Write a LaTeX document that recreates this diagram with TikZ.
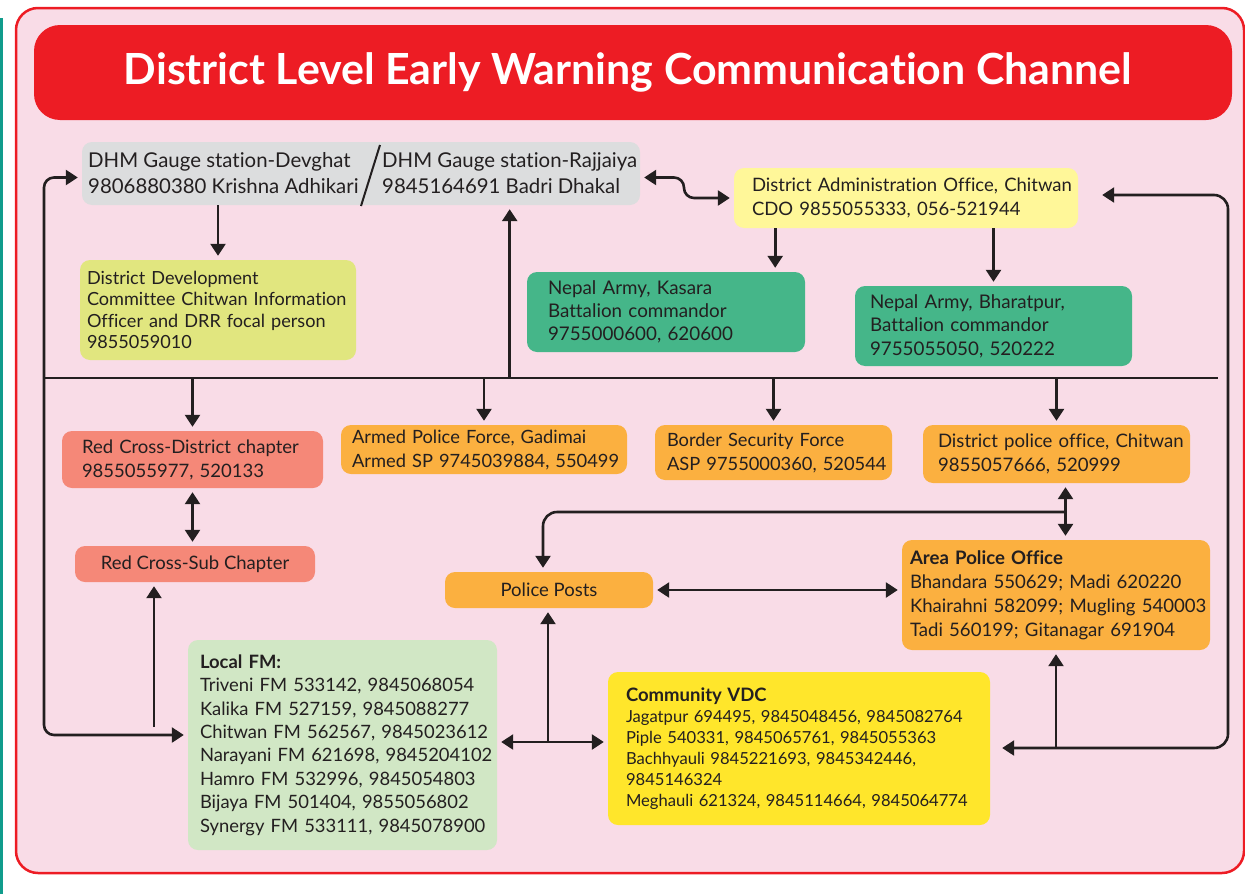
\documentclass[tikz,border=0pt]{standalone}
\usepackage{fontspec}
\setmainfont{Lato}[Ligatures=NoCommon]
\usetikzlibrary{arrows.meta}

\definecolor{ink}{HTML}{231F20}
\definecolor{bgpink}{HTML}{F9DCE7}
\definecolor{framered}{HTML}{ED1C24}
\definecolor{titlered}{HTML}{ED1C24}
\definecolor{edgeteal}{HTML}{109C8C}
\definecolor{dhmgray}{HTML}{DCDDDE}
\definecolor{ddcyellow}{HTML}{E1E67F}
\definecolor{daoyellow}{HTML}{FFF799}
\definecolor{armygreen}{HTML}{45B689}
\definecolor{crosssalmon}{HTML}{F58878}
\definecolor{policeorange}{HTML}{FBB040}
\definecolor{fmgreen}{HTML}{D1E7C5}
\definecolor{vdcyellow}{HTML}{FFE62B}

\newcommand\boxfont{\fontsize{18.5}{24}\selectfont}
\newcommand\dhmfont{\fontsize{20.4}{26}\selectfont}
\newcommand\ddcfont{\fontsize{18.1}{21.5}\selectfont}
\newcommand\fmfont{\fontsize{18.4}{23.4}\selectfont}
\newcommand\vdcfont{\fontsize{16.6}{21}\selectfont}

\tikzset{
  box/.style={rounded corners=10pt, text=ink, inner ysep=0pt, align=left, font=\boxfont,
    execute at begin node={\rightskip=0pt minus 60pt\hyphenpenalty=10000\exhyphenpenalty=10000\relax}},
  arr/.style={line width=2.6pt, draw=ink, -{Triangle[width=15pt,length=12pt]}, shorten >=4pt},
  arr2/.style={line width=2.6pt, draw=ink,
    {Triangle[width=15pt,length=12pt]}-{Triangle[width=15pt,length=12pt]},
    shorten >=4pt, shorten <=4pt},
}

\begin{document}
\begin{tikzpicture}[x=1pt,y=-1pt]
  \useasboundingbox (0,0) rectangle (1245,894);

  \fill[edgeteal] (0,18) rectangle (3,894);
  \draw[line width=2.5pt, draw=framered, fill=bgpink, rounded corners=22pt] (16,8) rectangle (1244,873);

  \node[fill=titlered, rounded corners=26pt, minimum width=1198pt, minimum height=95pt,
    text=white, font=\fontsize{42.9}{50}\selectfont\bfseries] (title) at (633,72.5)
    {District Level Early Warning Communication Channel\hspace*{10pt}};

  \begin{scope}[every node/.style={box}]
    \node[fill=dhmgray, minimum width=558pt, minimum height=63pt] (dhm) at (361,173.5) {};
    \node[font=\dhmfont, anchor=west, inner sep=0pt] (devghat) at (88,173.5)
      {DHM Gauge station-Devghat\\9806880380 Krishna Adhikari};
    \node[font=\dhmfont, anchor=west, inner sep=0pt] (rajjaiya) at (382,173.5)
      {DHM Gauge station-Rajjaiya\\9845164691 Badri Dhakal};

    \node[fill=ddcyellow, font=\ddcfont, inner xsep=7pt, text width=262pt, minimum height=100pt] (ddc) at (218,310)
      {District Development\\Committee Chitwan Information\\Officer and DRR focal person\\9855059010};
    \node[fill=daoyellow, inner xsep=18pt, text width=308pt, minimum height=60pt] (dao) at (906,198)
      {District Administration Office, Chitwan\\CDO 9855055333, 056-521944};
    \node[fill=armygreen, font=\fontsize{18.8}{23}\selectfont, inner xsep=21pt, text width=236pt, minimum height=80pt] (kasara) at (666,312)
      {Nepal Army, Kasara\\Battalion commandor\\9755000600, 620600};
    \node[fill=armygreen, font=\fontsize{18.8}{23.5}\selectfont, inner xsep=15pt, text width=247pt, minimum height=80pt] (bharatpur) at (993.5,326)
      {Nepal Army, Bharatpur,\\Battalion commandor\\9755055050, 520222};

    \node[fill=crosssalmon, inner xsep=20pt, text width=221pt, minimum height=57pt] (rcd) at (192.5,459.5)
      {Red Cross-District chapter\\9855055977, 520133};
    \node[fill=crosssalmon, align=center, minimum width=240pt, minimum height=36pt] (rcs) at (195,564)
      {Red Cross-Sub Chapter};
    \node[fill=policeorange, font=\fontsize{18.3}{24}\selectfont, inner xsep=11pt, text width=264pt, minimum height=49pt] (apf) at (484,449.5)
      {Armed Police Force, Gadimai\\Armed SP 9745039884, 550499};
    \node[fill=policeorange, font=\fontsize{18.3}{24}\selectfont, inner xsep=12pt, text width=213pt, minimum height=55pt] (bsf) at (773.5,452.5)
      {Border Security Force\\ASP 9755000360, 520544};
    \node[fill=policeorange, font=\fontsize{18.6}{24}\selectfont, inner xsep=15pt, text width=237pt, minimum height=58pt] (dpo) at (1056.5,454)
      {District police office, Chitwan\\9855057666, 520999};
    \node[fill=policeorange, align=center, minimum width=208pt, minimum height=36pt] (pp) at (549,590)
      {Police Posts};
    \node[fill=policeorange, font=\fontsize{18.6}{24}\selectfont, inner xsep=8pt, text width=292pt, minimum height=110pt] (apo) at (1056,595)
      {\textbf{Area Police Office}\\Bhandara 550629; Madi 620220\\Khairahni 582099; Mugling 540003\\Tadi 560199; Gitanagar 691904};

    \node[fill=fmgreen, font=\fmfont, inner xsep=12pt, text width=285pt, minimum height=210pt] (fm) at (342.5,745)
      {\textbf{Local FM:}\\Triveni FM 533142, 9845068054\\Kalika FM 527159, 9845088277\\Chitwan FM 562567, 9845023612\\Narayani FM 621698, 9845204102\\Hamro FM 532996, 9845054803\\Bijaya FM 501404, 9855056802\\Synergy FM 533111, 9845078900};
    \node[fill=vdcyellow, font=\vdcfont, inner xsep=18pt, text width=346pt, minimum height=153pt] (vdc) at (799,748.5)
      {{\fontsize{18.5}{21}\selectfont\textbf{Community VDC}}\\Jagatpur 694495, 9845048456, 9845082764\\Piple 540331, 9845065761, 9845055363\\Bachhyauli 9845221693, 9845342446,\\9845146324\\Meghauli 621324, 9845114664, 9845064774\\[12pt]};
  \end{scope}

  % DHM divider
  \draw[ink, line width=2pt] (380,145) -- (361,206);

  \coordinate (bus) at (44,378);
  \coordinate (busEnd) at (1218,378);
  \coordinate (kasaraIn) at ([xshift=-30pt]kasara.north east);
  \coordinate (dpoOut) at ([xshift=9pt]dpo.south);
  \coordinate (ppRow) at (0,512);
  \coordinate (ppTap) at (dpoOut |- ppRow);
  \coordinate (ppIn) at ([xshift=-6pt]pp.north);
  \coordinate (hub) at (548,742);
  \coordinate (fmTap) at (154,727);
  \coordinate (loopC) at (1228,748);

  \draw[ink, line width=2.6pt] (bus) -- (busEnd);

  \draw[arr] (dhm.south -| ddc.north) -- (ddc.north);
  \draw[arr] (bus -| rajjaiya.south) -- (dhm.south -| rajjaiya.south);
  \draw[arr2, rounded corners=10pt] ([yshift=-4pt]dhm.east) -- (684,177.5) -- (684,198) -- (dao.west);
  \draw[arr] (dao.south -| kasaraIn) -- (kasaraIn);
  \draw[arr] (dao.south -| bharatpur.north) -- (bharatpur.north);

  \foreach \n in {rcd,apf,bsf,dpo}
    \draw[arr] (bus -| \n.north) -- (\n.north);

  \draw[arr2] (rcd.south) -- (rcd.south |- rcs.north);
  \draw[arr] (fmTap) -- (fmTap |- rcs.south);
  \draw[arr2, rounded corners=10pt] ([yshift=-4pt]dhm.west) -| (bus) |- ([yshift=10pt]fm.west);

  \draw[arr2] (dpoOut) -- (dpoOut |- apo.north);
  \draw[arr, rounded corners=14pt] (ppTap) -| (ppIn);
  \draw[arr2] (pp.east) -- (pp.east -| apo.west);

  \draw[arr2] (fm.east |- hub) -- (vdc.west |- hub);
  \draw[arr] (hub) -- (hub |- pp.south);

  \draw[arr2, rounded corners=14pt, shorten <=12pt, shorten >=24pt] (vdc.east |- loopC) -- (loopC) |- ([yshift=3pt]dao.east);
  \draw[arr] (apo.south |- loopC) -- (apo.south);
\end{tikzpicture}
\end{document}
